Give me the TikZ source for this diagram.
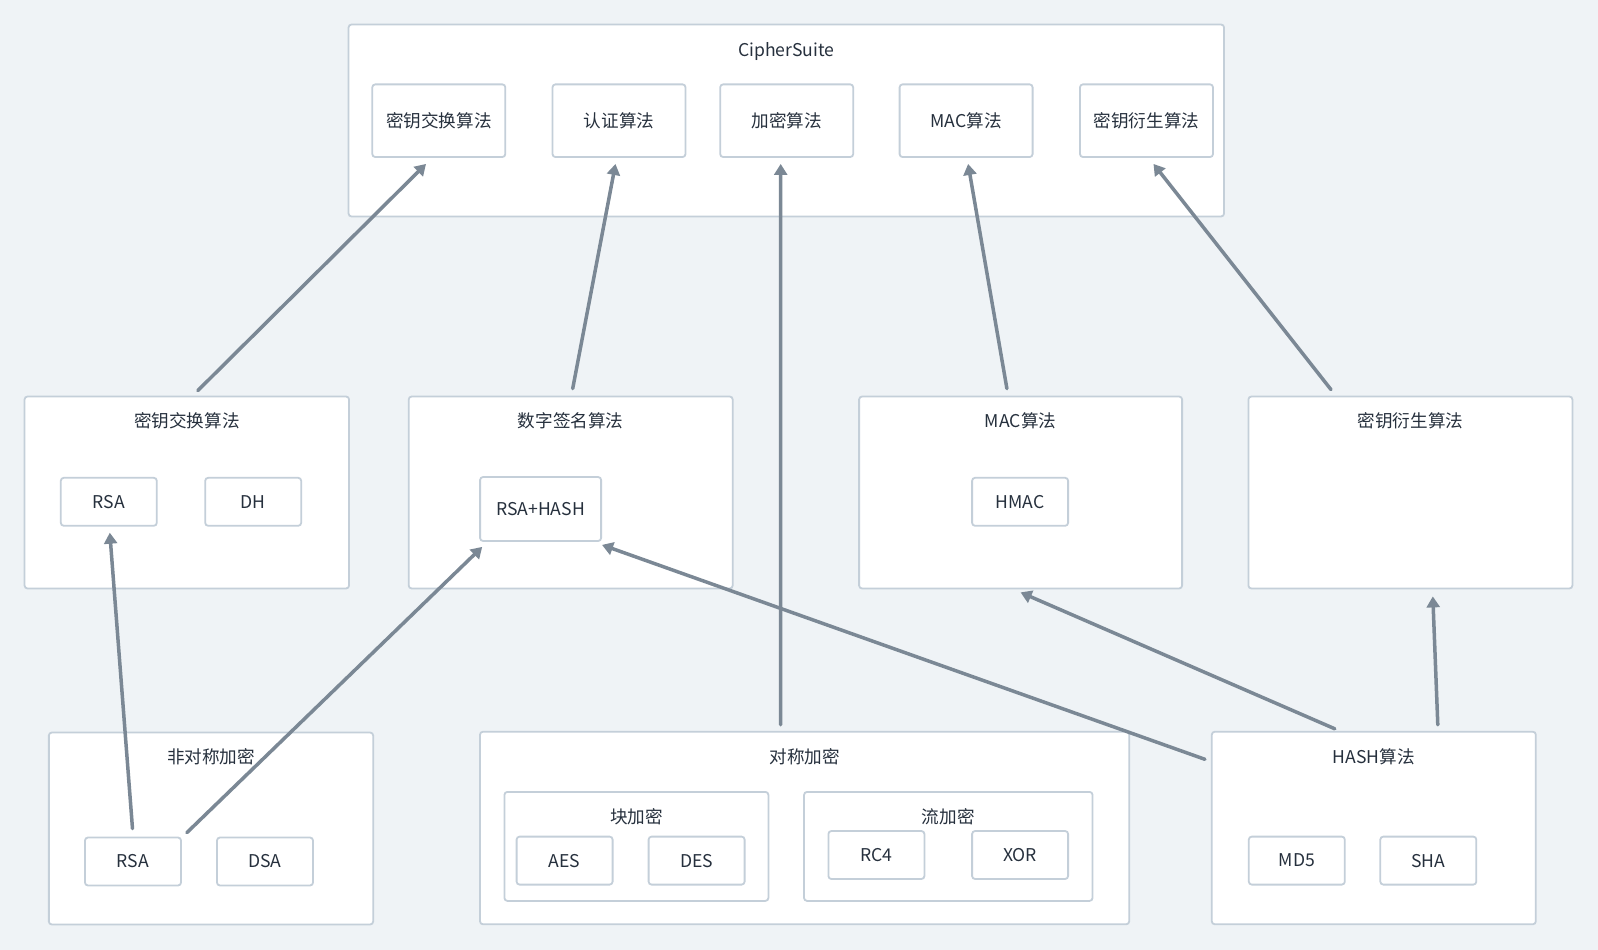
\documentclass[tikz,border=0pt]{standalone}
\usepackage{fontspec}
\setmainfont{Noto Sans CJK SC}
\usetikzlibrary{arrows.meta}
\definecolor{bg}{HTML}{EFF3F6}
\definecolor{bdr}{HTML}{C4CFD9}
\definecolor{txt}{HTML}{26303D}
\definecolor{arr}{HTML}{7B8895}
\begin{document}
\begin{tikzpicture}[x=1pt,y=-1pt,
  box/.style={draw=bdr,line width=1.8pt,fill=white,rounded corners=3pt,inner sep=0pt},
  lbl/.style={text=txt,font=\fontsize{17.6}{20}\selectfont,inner sep=0pt},
  cell/.style={box,lbl,minimum width=96pt,minimum height=48pt},
  conn/.style={draw=arr,line width=3.5pt,line cap=round,-{Triangle[length=11pt,width=13pt]}}]
\fill[bg] (0,0) rectangle (1598,950);
\useasboundingbox (0,0) rectangle (1598,950);
% CipherSuite
\node[box,minimum width=875.5pt,minimum height=192pt] (cs) at (786.3,120.5) {};
\node[lbl] (cst) at (786.3,51.5) {CipherSuite};
\node[cell,minimum width=133pt,minimum height=72.7pt] (cs1) at (438.8,120.7) {密钥交换算法};
\node[cell,minimum width=133pt,minimum height=72.7pt] (cs2) at (619,120.7) {认证算法};
\node[cell,minimum width=133pt,minimum height=72.7pt] (cs3) at (786.7,120.7) {加密算法};
\node[cell,minimum width=133pt,minimum height=72.7pt] (cs4) at (966.1,120.7) {MAC算法};
\node[cell,minimum width=133pt,minimum height=72.7pt] (cs5) at (1146.5,120.7) {密钥衍生算法};
% middle row
\node[box,minimum width=324.5pt,minimum height=192pt] (kex) at (186.8,492.5) {};
\node[lbl] (kext) at (186.8,421) {密钥交换算法};
\node[cell] (krsa) at (108.8,501.8) {RSA};
\node[cell] (kdh) at (253.2,501.8) {DH};
\node[box,minimum width=324pt,minimum height=192pt] (sig) at (570.7,492.5) {};
\node[lbl] (sigt) at (570.7,421) {数字签名算法};
\node[cell,minimum width=121pt,minimum height=64pt] (rsahash) at (540.6,509) {RSA+HASH};
\node[box,minimum width=323pt,minimum height=192pt] (mac) at (1020.6,492.5) {};
\node[lbl] (mact) at (1020.6,421) {MAC算法};
\node[cell] (hmac) at (1020.1,501.8) {HMAC};
\node[box,minimum width=324pt,minimum height=192pt] (kdf) at (1410.4,492.5) {};
\node[lbl] (kdft) at (1410.4,421) {密钥衍生算法};
% bottom row
\node[box,minimum width=324.3pt,minimum height=192pt] (asym) at (211,828.5) {};
\node[lbl] (asymt) at (211,756.5) {非对称加密};
\node[cell] (arsa) at (133,861.5) {RSA};
\node[cell] (adsa) at (265,861.5) {DSA};
\node[box,minimum width=649.2pt,minimum height=192.6pt] (sym) at (804.6,828) {};
\node[lbl] (symt) at (804.6,756.5) {对称加密};
\node[box,minimum width=264pt,minimum height=109pt] (blk) at (636.4,846.4) {};
\node[lbl] (blkt) at (636.4,816.3) {块加密};
\node[cell] (aes) at (564.6,860.6) {AES};
\node[cell] (des) at (696.6,860.6) {DES};
\node[box,minimum width=288.5pt,minimum height=109pt] (strm) at (948.3,846.4) {};
\node[lbl] (strmt) at (948.3,816.3) {流加密};
\node[cell] (rc4) at (876.4,855) {RC4};
\node[cell] (xor) at (1020.1,855) {XOR};
\node[box,minimum width=324pt,minimum height=192.6pt] (hash) at (1373.8,828) {};
\node[lbl] (hasht) at (1373.8,756.5) {HASH算法};
\node[cell] (md5) at (1296.8,860.6) {MD5};
\node[cell] (sha) at (1428.3,860.6) {SHA};
% connectors
\draw[conn] ([shift={(11,-5)}]kex.north) -- ([shift={(-12.8,6)}]cs1.south);
\draw[conn] ([shift={(2,-7)}]sig.north) -- ([shift={(-3.5,6)}]cs2.south);
\draw[conn] ([shift={(-24,-6)}]sym.north) -- ([shift={(-6,6)}]cs3.south);
\draw[conn] ([shift={(-13.7,-7)}]mac.north) -- ([shift={(2,6)}]cs4.south);
\draw[conn] ([shift={(-79.4,-6)}]kdf.north) -- ([shift={(7,6)}]cs5.south);
\draw[conn] ([shift={(-0.5,-8)}]arsa.north) -- ([shift={(1,6)}]krsa.south);
\draw[conn] ([shift={(5,-4)}]arsa.north east) -- ([shift={(3,5)}]rsahash.south west);
\draw[conn] ([shift={(-6,28.5)}]hash.north west) -- ([shift={(0,3)}]rsahash.south east);
\draw[conn] ([shift={(-39,-2)}]hash.north) -- ([shift={(0,3)}]mac.south);
\draw[conn] ([shift={(64,-6)}]hash.north) -- ([shift={(22.4,7)}]kdf.south);
\end{tikzpicture}
\end{document}
